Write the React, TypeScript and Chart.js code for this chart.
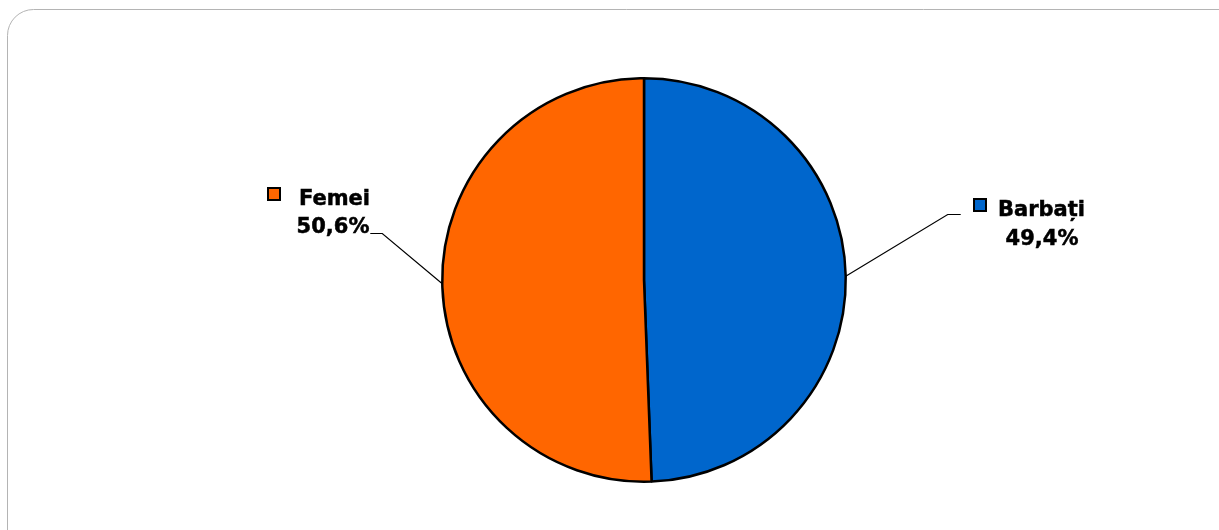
import React, { useEffect, useRef } from "react";
import { Chart, registerables } from "chart.js";

Chart.register(...registerables);

const categories = ["Barbați", "Femei"];
const values = [49.4, 50.6];
const valueLabels = ["49,4%", "50,6%"];
const colors = ["#0066CC", "#FF6600"];

// label layout relative to leader-line anchor on pie edge
const labelLayout = [
  { elbowDx: 102, elbowDy: -62, tailDx: 13, markerX: 973, markerY: 198, nameX: 998, nameY: 216, pctCx: 1042, pctY: 245 },
  { elbowDx: -60, elbowDy: -51, tailDx: -12, markerX: 267, markerY: 187, nameX: 299, nameY: 205, pctCx: 333, pctY: 233 },
];

const FONT = "bold 21px 'DejaVu Sans', Verdana, sans-serif";

const framePlugin = {
  id: "frame",
  beforeDraw(chart: any) {
    const ctx = chart.ctx;
    ctx.save();
    ctx.fillStyle = "#ffffff";
    ctx.fillRect(0, 0, chart.width, chart.height);
    ctx.strokeStyle = "#b4b4b4";
    ctx.lineWidth = 1;
    ctx.beginPath();
    (ctx as any).roundRect(7.5, 9.5, 1300, 600, 26);
    ctx.stroke();
    ctx.restore();
  },
};

const labelPlugin = {
  id: "pieLabels",
  afterDraw(chart: any) {
    const ctx = chart.ctx;
    const meta = chart.getDatasetMeta(0);
    meta.data.forEach((arc: any, i: number) => {
      const p = arc.getProps(["x", "y", "startAngle", "endAngle", "outerRadius"], true);
      const mid = (p.startAngle + p.endAngle) / 2;
      const ax = p.x + Math.cos(mid) * p.outerRadius;
      const ay = p.y + Math.sin(mid) * p.outerRadius;
      const L = labelLayout[i];
      ctx.save();
      ctx.strokeStyle = "#000";
      ctx.lineWidth = 1.2;
      ctx.beginPath();
      ctx.moveTo(ax, ay);
      ctx.lineTo(ax + L.elbowDx, Math.round(ay + L.elbowDy) + 0.5);
      ctx.lineTo(ax + L.elbowDx + L.tailDx, Math.round(ay + L.elbowDy) + 0.5);
      ctx.stroke();

      // marker
      ctx.fillStyle = colors[i];
      ctx.fillRect(L.markerX, L.markerY, 14, 14);
      ctx.lineWidth = 2;
      ctx.strokeStyle = "#000";
      ctx.strokeRect(L.markerX + 1, L.markerY + 1, 12, 12);

      ctx.fillStyle = "#000";
      ctx.strokeStyle = "#000";
      ctx.lineWidth = 0.5;
      ctx.font = FONT;
      ctx.textBaseline = "alphabetic";
      ctx.textAlign = "left";
      ctx.fillText(categories[i], L.nameX, L.nameY);
      ctx.strokeText(categories[i], L.nameX, L.nameY);
      ctx.textAlign = "center";
      ctx.fillText(valueLabels[i], L.pctCx, L.pctY);
      ctx.strokeText(valueLabels[i], L.pctCx, L.pctY);
      ctx.restore();
    });
  },
};

export default function App() {
  const ref = useRef<HTMLCanvasElement>(null);
  useEffect(() => {
    if (!ref.current) return;
    const chart = new Chart(ref.current, {
      type: "pie",
      data: {
        labels: categories,
        datasets: [
          {
            data: values,
            backgroundColor: colors,
            borderColor: "#000000",
            borderWidth: 2.5,
            hoverOffset: 0,
          },
        ],
      },
      options: {
        responsive: false,
        animation: false,
        layout: { padding: { top: 77, bottom: 47, left: 441, right: 372 } },
        plugins: {
          legend: { display: false },
          tooltip: { enabled: false },
        },
      },
      plugins: [framePlugin, labelPlugin],
    });
    return () => chart.destroy();
  }, []);
  return (
    <div style={{ position: "fixed", left: 0, top: 0, width: 1219, height: 530, background: "#fff" }}>
      <canvas ref={ref} width={1219} height={530} style={{ display: "block" }} />
    </div>
  );
}
